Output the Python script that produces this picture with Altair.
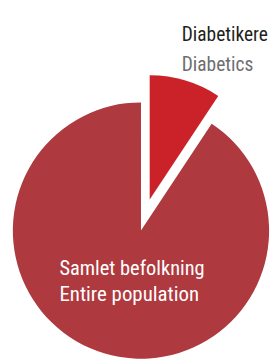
import altair as alt
import pandas as pd

categories = ["Diabetikere", "Samlet befolkning"]
values = [9.3, 90.7]
order = [0, 1]

df = pd.DataFrame({"cat": categories, "value": values, "ord": order})

colors = ["#CB2128", "#AE393E"]

base = alt.Chart(df)
color_enc = alt.Color("cat:N", scale=alt.Scale(domain=categories, range=colors), legend=None)

main = base.mark_arc(radius=132, stroke=None).encode(
    theta=alt.Theta("value:Q", stack=True),
    order=alt.Order("ord:Q"),
    color=color_enc,
    opacity=alt.condition(alt.datum.cat == categories[0], alt.value(0), alt.value(1)),
    x=alt.value(137),
    y=alt.value(224),
)

exploded = base.mark_arc(radius=128, stroke=None).encode(
    theta=alt.Theta("value:Q", stack=True),
    order=alt.Order("ord:Q"),
    color=color_enc,
    opacity=alt.condition(alt.datum.cat == categories[0], alt.value(1), alt.value(0)),
    x=alt.value(146),
    y=alt.value(192),
)

label_top = ["Diabetikere", "Diabetics"]
label_top_colors = ["#231F20", "#6D6E71"]
label_bottom = ["Samlet befolkning", "Entire population"]

font = "Roboto Condensed"

t1 = alt.Chart(pd.DataFrame({"t": [label_top[0]]})).mark_text(
    align="left", baseline="alphabetic", font=font, fontSize=20, color=label_top_colors[0]
).encode(text="t:N", x=alt.value(179), y=alt.value(29))
t2 = alt.Chart(pd.DataFrame({"t": [label_top[1]]})).mark_text(
    align="left", baseline="alphabetic", font=font, fontSize=20, color=label_top_colors[1]
).encode(text="t:N", x=alt.value(179), y=alt.value(60))
t3 = alt.Chart(pd.DataFrame({"t": [label_bottom[0]]})).mark_text(
    align="left", baseline="alphabetic", font=font, fontSize=21, color="white"
).encode(text="t:N", x=alt.value(53), y=alt.value(270))
t4 = alt.Chart(pd.DataFrame({"t": [label_bottom[1]]})).mark_text(
    align="left", baseline="alphabetic", font=font, fontSize=21.5, color="white"
).encode(text="t:N", x=alt.value(53), y=alt.value(297))

chart = alt.layer(main, exploded, t1, t2, t3, t4).properties(
    width=272, height=352, autosize=alt.AutoSizeParams(type="none"), padding=0
).configure_view(stroke=None)

chart.save("out.html", embed_options={"renderer": "svg", "actions": False})
